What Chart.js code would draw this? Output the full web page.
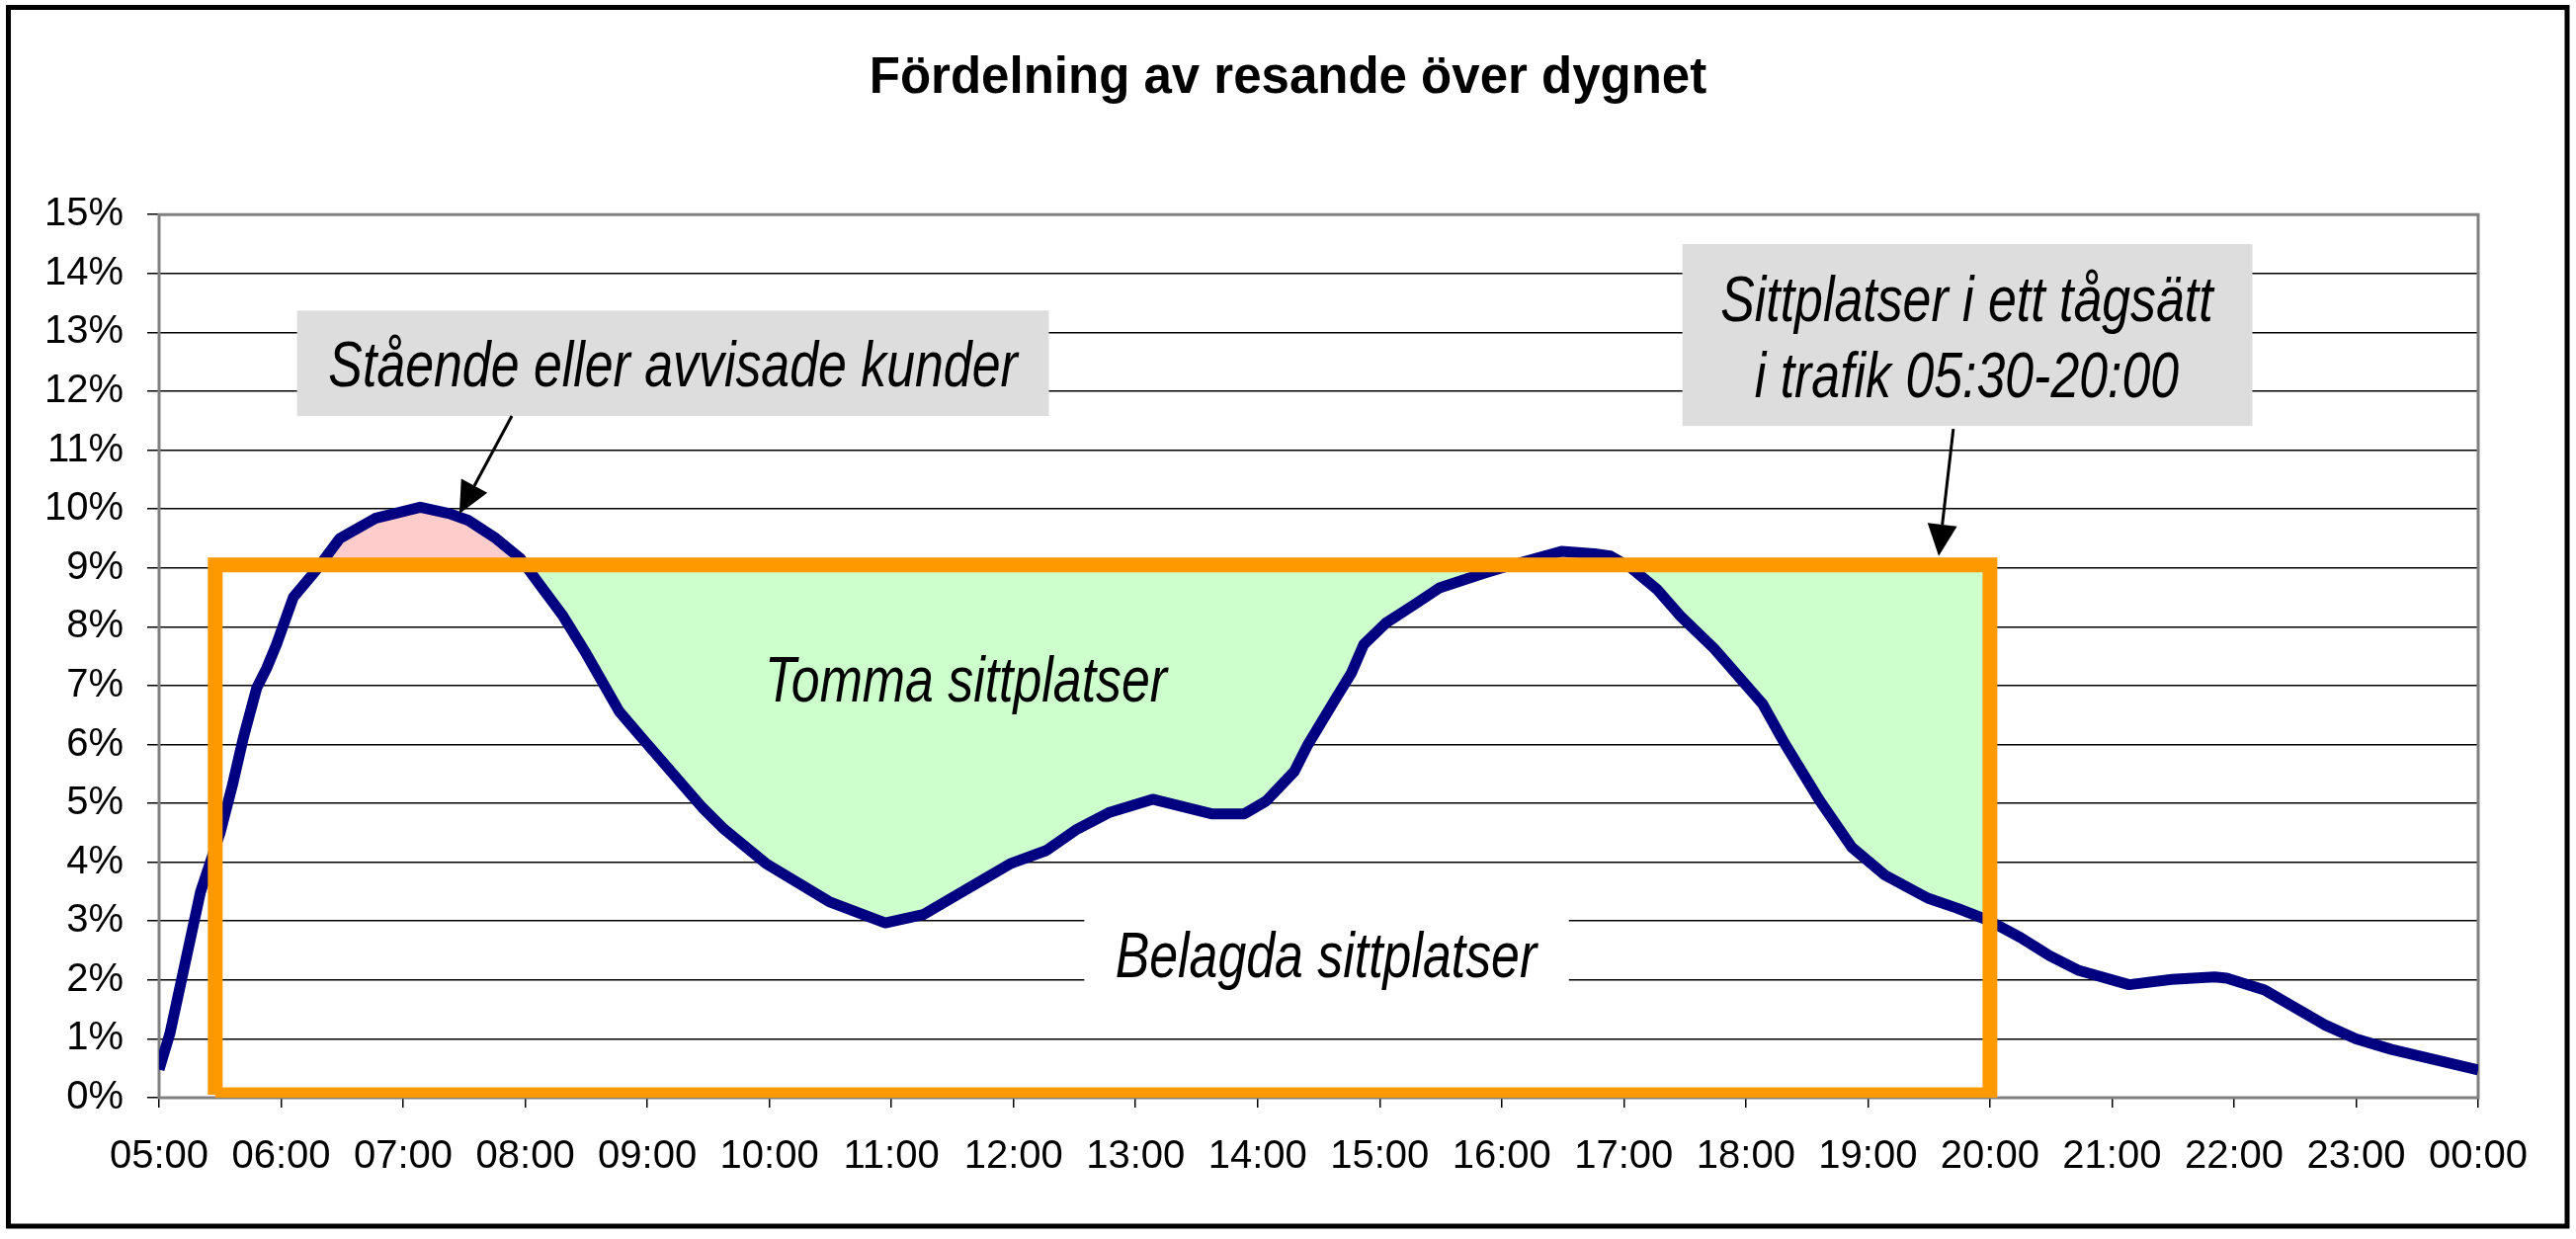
<!DOCTYPE html>
<html>
<head>
<meta charset="utf-8">
<title>Fördelning av resande över dygnet</title>
<script src="https://cdn.jsdelivr.net/npm/chart.js@4.4.0/dist/chart.umd.min.js"></script>
<style>
body { margin: 0; background: #fff; }
canvas { display: block; }
</style>
</head>
<body>
<canvas id="dygn" width="2607" height="1254"></canvas>
<script>
/* global Chart */
// klockslag i timmar (05:00 = 5, 00:00 = 24) och andel resande i procent
const hours = [5.00, 5.09, 5.34, 5.50, 5.60, 5.69, 5.80, 5.88, 5.96, 6.10,
  6.29, 6.48, 6.77, 7.14, 7.38, 7.53, 7.76, 7.96, 8.12, 8.31,
  8.50, 8.77, 8.96, 9.45, 9.63, 9.97, 10.49, 10.95, 11.26, 11.98,
  12.27, 12.52, 12.78, 13.14, 13.63, 13.89, 14.07, 14.30, 14.41, 14.64,
  14.77, 14.87, 15.05, 15.28, 15.49, 15.84, 16.00, 16.49, 16.76, 16.89,
  17.06, 17.27, 17.46, 17.74, 18.14, 18.32, 18.60, 18.87, 19.14, 19.49,
  19.73, 20.00, 20.25, 20.49, 20.73, 21.14, 21.49, 21.84, 21.94, 22.25,
  22.74, 23.00, 23.29, 24.00];
const share = [0.48, 1.10, 3.50, 4.50, 5.30, 6.11, 6.96, 7.29, 7.69, 8.50,
  8.97, 9.50, 9.84, 10.03, 9.92, 9.81, 9.50, 9.16, 8.71, 8.18,
  7.54, 6.56, 6.10, 4.93, 4.56, 3.98, 3.33, 2.97, 3.11, 3.98,
  4.20, 4.56, 4.84, 5.07, 4.82, 4.82, 5.04, 5.54, 5.99, 6.78,
  7.22, 7.70, 8.06, 8.37, 8.66, 8.90, 9.00, 9.28, 9.24, 9.20,
  9.00, 8.64, 8.19, 7.63, 6.68, 6.01, 5.06, 4.25, 3.78, 3.39,
  3.22, 3.00, 2.72, 2.41, 2.16, 1.92, 2.01, 2.05, 2.03, 1.83,
  1.24, 1.00, 0.82, 0.47];
const tickLabels = ['05:00', '06:00', '07:00', '08:00', '09:00', '10:00', '11:00', '12:00',
  '13:00', '14:00', '15:00', '16:00', '17:00', '18:00', '19:00', '20:00',
  '21:00', '22:00', '23:00', '00:00'];

// sittplatser i ett tågsätt, i trafik 05:30-20:00
const seatFrom = 5.46;
const seatTo = 20.00;
const seatLevel = 9.05;
const seatBase = 0.05;
const fillFrom = 6.29;

const FONT = '"Liberation Sans", Arial, Helvetica, sans-serif';

const curve = hours.map((h, i) => ({ x: h, y: share[i] }));
const fillPts = curve.filter(p => p.x >= fillFrom && p.x <= seatTo);
const seatBox = [
  { x: seatFrom, y: seatBase }, { x: seatFrom, y: seatLevel },
  { x: seatTo, y: seatLevel }, { x: seatTo, y: seatBase },
  { x: seatFrom, y: seatBase }
];

// textrutor och pilar, i axlarnas enheter
const boxes = [
  { x0: 6.13, x1: 12.29, y0: 13.37, y1: 11.58, color: '#DDDDDD' },
  { x0: 17.48, x1: 22.15, y0: 14.50, y1: 11.41, color: '#DDDDDD' },
  { x0: 12.58, x1: 16.55, y0: 3.34, y1: 1.49, color: '#FFFFFF' }
];
const texts = [
  { text: 'Stående eller avvisade kunder', x: 9.21, y: 12.08 },
  { text: 'Sittplatser i ett tågsätt', x: 19.81, y: 13.19 },
  { text: 'i trafik 05:30-20:00', x: 19.81, y: 11.90 },
  { text: 'Tomma sittplatser', x: 11.61, y: 6.73 },
  { text: 'Belagda sittplatser', x: 14.56, y: 2.05 }
];
const arrows = [
  { from: [7.89, 11.58], to: [7.46, 9.92] },
  { from: [19.70, 11.36], to: [19.58, 9.20] }
];

const notes = {
  id: 'notes',
  beforeDraw(chart) {
    const c = chart.ctx;
    c.save();
    c.fillStyle = '#ffffff';
    c.fillRect(0, 0, chart.width, chart.height);
    c.restore();
  },
  beforeDatasetsDraw(chart) {
    const c = chart.ctx;
    const a = chart.chartArea;
    c.save();
    c.strokeStyle = '#808080';
    c.lineWidth = 3;
    c.strokeRect(a.left, a.top, a.right - a.left, a.bottom - a.top);
    c.restore();
  },
  afterDatasetsDraw(chart) {
    const c = chart.ctx;
    const xs = chart.scales.x;
    const ys = chart.scales.y;
    c.save();
    boxes.forEach(b => {
      const x0 = xs.getPixelForValue(b.x0), x1 = xs.getPixelForValue(b.x1);
      const y0 = ys.getPixelForValue(b.y0), y1 = ys.getPixelForValue(b.y1);
      c.fillStyle = b.color;
      c.fillRect(x0, y0, x1 - x0, y1 - y0);
    });
    c.fillStyle = '#000000';
    c.font = 'italic 64px ' + FONT;
    c.textAlign = 'center';
    c.textBaseline = 'alphabetic';
    texts.forEach(t => {
      c.save();
      c.translate(xs.getPixelForValue(t.x), ys.getPixelForValue(t.y));
      c.scale(0.81, 1);
      c.fillText(t.text, 0, 0);
      c.restore();
    });
    arrows.forEach(ar => {
      const x0 = xs.getPixelForValue(ar.from[0]), y0 = ys.getPixelForValue(ar.from[1]);
      const x1 = xs.getPixelForValue(ar.to[0]), y1 = ys.getPixelForValue(ar.to[1]);
      const ang = Math.atan2(y1 - y0, x1 - x0);
      const len = 32, half = 15;
      const bx = x1 - len * Math.cos(ang), by = y1 - len * Math.sin(ang);
      c.strokeStyle = '#000000';
      c.lineWidth = 3;
      c.beginPath();
      c.moveTo(x0, y0);
      c.lineTo(bx, by);
      c.stroke();
      c.beginPath();
      c.moveTo(x1, y1);
      c.lineTo(bx + half * Math.sin(ang), by - half * Math.cos(ang));
      c.lineTo(bx - half * Math.sin(ang), by + half * Math.cos(ang));
      c.closePath();
      c.fill();
    });
    c.restore();
  },
  afterDraw(chart) {
    const c = chart.ctx;
    c.save();
    c.strokeStyle = '#000000';
    c.lineWidth = 5;
    c.strokeRect(8.5, 7.5, 2589.5, 1233.5);
    c.restore();
  }
};

new Chart(document.getElementById('dygn').getContext('2d'), {
  type: 'line',
  data: {
    datasets: [{
      label: 'fyllnad',
      data: fillPts,
      borderWidth: 0,
      pointRadius: 0,
      fill: { target: { value: seatLevel }, above: '#FFCCCC', below: '#CCFFCC' },
      order: 3
    }, {
      label: 'Resande',
      data: curve,
      borderColor: '#000080',
      borderWidth: 11,
      borderJoinStyle: 'round',
      pointRadius: 0,
      fill: false,
      tension: 0,
      order: 2
    }, {
      label: 'Sittplatser',
      data: seatBox,
      borderColor: '#FF9900',
      borderWidth: 15,
      borderJoinStyle: 'miter',
      pointRadius: 0,
      fill: false,
      tension: 0,
      order: 1
    }]
  },
  options: {
    responsive: false,
    animation: false,
    events: [],
    layout: { padding: { top: 20, right: 0, bottom: 0, left: 0 } },
    plugins: {
      legend: { display: false },
      tooltip: { enabled: false },
      title: {
        display: true,
        text: 'Fördelning av resande över dygnet',
        color: '#000000',
        font: { family: FONT, size: 51, weight: 'bold', lineHeight: 1.2 },
        padding: { top: 29, bottom: 107 }
      }
    },
    scales: {
      x: {
        type: 'linear',
        min: 5,
        max: 24,
        afterFit(scale) { scale.height = 143; },
        border: { display: false },
        grid: { drawOnChartArea: false, drawTicks: true, tickLength: 10, color: '#000000', lineWidth: 1.5 },
        ticks: {
          stepSize: 1,
          autoSkip: false,
          maxRotation: 0,
          padding: 26,
          color: '#000000',
          font: { family: FONT, size: 40 },
          callback: v => tickLabels[v - 5]
        }
      },
      y: {
        min: 0,
        max: 15,
        afterFit(scale) { scale.width = 161; },
        border: { display: false },
        grid: { color: '#000000', lineWidth: 1.5, tickLength: 12 },
        ticks: {
          stepSize: 1,
          padding: 24,
          color: '#000000',
          font: { family: FONT, size: 40 },
          callback: v => v + '%'
        }
      },
      // tom marginal till höger om diagramytan
      yRight: {
        position: 'right',
        min: 0,
        max: 15,
        afterFit(scale) { scale.width = 99; },
        border: { display: false },
        grid: { display: false },
        ticks: { display: false }
      }
    }
  },
  plugins: [notes]
});
</script>
</body>
</html>
